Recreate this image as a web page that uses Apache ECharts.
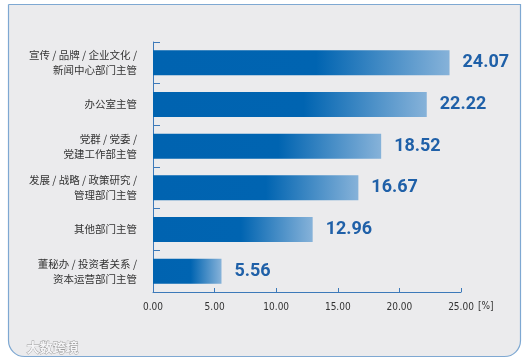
<!DOCTYPE html>
<html><head><meta charset="utf-8">
<script src="https://cdn.jsdelivr.net/npm/echarts@6/dist/echarts.min.js"></script>
<style>html,body{margin:0;padding:0;background:#fff}#c{width:529px;height:360px}</style>
</head><body><div id="c"></div>
<script>
const categories = [
  '宣传 / 品牌 / 企业文化 /\n新闻中心部门主管',
  '办公室主管',
  '党群 / 党委 /\n党建工作部主管',
  '发展 / 战略 / 政策研究 /\n管理部门主管',
  '其他部门主管',
  '董秘办 / 投资者关系 /\n资本运营部门主管'
];
const values = [24.07, 22.22, 18.52, 16.67, 12.96, 5.56];
const xTicks = [0, 5, 10, 15, 20, 25];
const unitLabel = '[%]';
const watermark = '大数跨境';

const chart = echarts.init(document.getElementById('c'), null, {renderer: 'canvas'});
const grad = new echarts.graphic.LinearGradient(0, 0, 1, 0, [
  {offset: 0, color: '#0063b0'},
  {offset: 0.55, color: '#0064b1'},
  {offset: 1, color: '#86b2d9'}
]);
const fontFam = '"Noto Sans CJK SC", "Noto Sans", sans-serif';
chart.setOption({
  backgroundColor: '#ffffff',
  animation: false,
  graphic: [
    {type: 'rect', z: -10, shape: {x: 8.5, y: 4.5, width: 512, height: 352, r: [0, 0, 16, 16]},
     style: {fill: '#ebebed', stroke: '#7ea8d2', lineWidth: 1.2}},
    {type: 'text', left: 478, top: 301, style: {text: unitLabel, fill: '#333', font: '10px "DejaVu Sans Condensed", sans-serif'}},
    {type: 'text', left: 26, top: 340, style: {text: watermark, fill: '#f4f4f6', stroke: '#9a9a9a', lineWidth: 0.8, font: 'bold 13px ' + fontFam}}
  ],
  grid: {left: 153, right: 68, top: 42, bottom: 68, containLabel: false},
  xAxis: {
    type: 'value', min: xTicks[0], max: xTicks[xTicks.length - 1], interval: 5,
    axisLine: {show: true, lineStyle: {color: '#3c79b9', width: 1}},
    axisTick: {show: true, inside: true, length: 4, lineStyle: {color: '#3c79b9'}},
    splitLine: {show: false},
    axisLabel: {color: '#333', fontSize: 10, margin: 10, fontFamily: '"DejaVu Sans Condensed", sans-serif',
      formatter: v => v.toFixed(2)}
  },
  yAxis: {
    type: 'category', data: categories, inverse: true,
    axisLine: {show: true, lineStyle: {color: '#3c79b9', width: 1}},
    axisTick: {show: true, inside: true, length: 7, alignWithLabel: false, lineStyle: {color: '#3c79b9'}},
    axisLabel: {color: '#333', fontSize: 10.5, margin: 16, lineHeight: 15, align: 'right', fontFamily: fontFam}
  },
  series: [{
    type: 'bar', data: values, barWidth: 25,
    itemStyle: {color: grad},
    label: {show: true, position: 'right', distance: 13, color: '#1f60a8', fontSize: 18, fontWeight: 'bold',
      fontFamily: 'Roboto, "Open Sans", sans-serif', formatter: p => p.value.toFixed(2)}
  }]
});
</script></body></html>
